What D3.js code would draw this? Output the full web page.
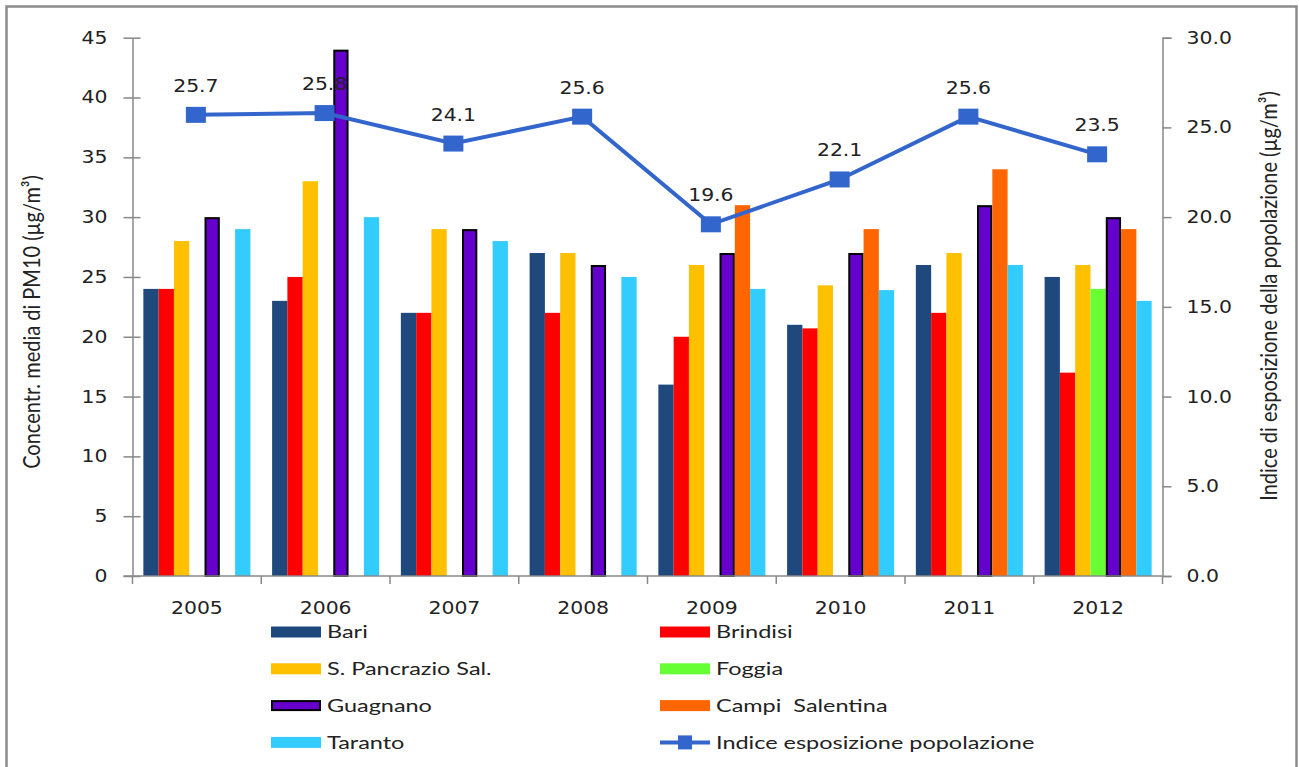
<!DOCTYPE html>
<html><head><meta charset="utf-8">
<script src="https://cdn.jsdelivr.net/npm/d3@7"></script>
<style>
body{margin:0;background:#fff;}
svg{display:block;}
.num{font-family:"DejaVu Sans",Verdana,sans-serif;font-size:17px;fill:#222;}
.sx-mid{transform-box:fill-box;transform-origin:center;transform:scaleX(1.2);}
.sx-end{transform-box:fill-box;transform-origin:right center;transform:scaleX(1.2);}
.sx-start{transform-box:fill-box;transform-origin:left center;transform:scaleX(1.2);}
.leg{font-family:Lato,"Open Sans",sans-serif;font-size:17px;fill:#222;white-space:pre;transform-box:fill-box;transform-origin:left center;transform:scaleX(1.38);}
.ttl{font-family:Lato,"Open Sans",sans-serif;font-size:20px;fill:#222;}
</style></head>
<body>
<script>
const years = ["2005","2006","2007","2008","2009","2010","2011","2012"];
const seriesNames = ["Bari","Brindisi","S. Pancrazio Sal.","Foggia","Guagnano","Campi  Salentina","Taranto"];
const bari       = [24, 23, 22, 27, 16, 21, 26, 25];
const brindisi   = [24, 25, 22, 22, 20, 20.7, 22, 17];
const pancrazio  = [28, 33, 29, 27, 26, 24.3, 27, 26];
const foggia     = [null, null, null, null, null, null, null, 24];
const guagnano   = [30, 44, 29, 26, 27, 27, 31, 30];
const campi      = [null, null, null, null, 31, 29, 34, 29];
const taranto    = [29, 30, 28, 25, 24, 23.9, 26, 23];
const indice     = [25.7, 25.8, 24.1, 25.6, 19.6, 22.1, 25.6, 23.5];
const leftTicks  = [0,5,10,15,20,25,30,35,40,45];
const rightTicks = [0,5,10,15,20,25,30];
const lineName = "Indice esposizione popolazione";
const leftTitle = "Concentr. media di PM10 (µg/m³)";
const rightTitle = "Indice di esposizione della popolazione (µg/m³)";

const colors = ["#1F497D","#FF0000","#FFC000","#66FF33","#6600CC","#FF6600","#33CCFF"];
const seriesVals = [bari, brindisi, pancrazio, foggia, guagnano, campi, taranto];

const W = 1299, H = 767;
const svg = d3.select("body").append("svg").attr("width", W).attr("height", H);
svg.append("rect").attr("width", W).attr("height", H).attr("fill", "#fff");
svg.append("rect").attr("x", 6.5).attr("y", 6.5).attr("width", 1290).attr("height", 800)
  .attr("fill", "none").attr("stroke", "#8c8c8c").attr("stroke-width", 2.5);

const X0 = 132.5, X1 = 1162.5, YT = 37.7, YB = 576;
const x = d3.scaleBand().domain(years).range([X0, X1]).paddingInner(0).paddingOuter(0);
const xs = d3.scaleBand().domain(seriesNames).range([0, x.bandwidth()]).paddingInner(0).paddingOuter(0.71);
const yL = d3.scaleLinear().domain([0, 45]).range([YB, YT]);
const yR = d3.scaleLinear().domain([0, 30]).range([YB, YT]);

// bars
seriesNames.forEach((name, si) => {
  const data = years.map((yr, i) => ({yr, v: seriesVals[si][i]})).filter(d => d.v != null);
  const isG = name === "Guagnano";
  svg.append("g").selectAll("rect").data(data).join("rect")
    .attr("x", d => x(d.yr) + xs(name) + (isG ? 1 : 0))
    .attr("width", xs.bandwidth() - (isG ? 2 : 0))
    .attr("y", d => yL(d.v) + (isG ? 1 : 0))
    .attr("height", d => YB - yL(d.v) - (isG ? 1 : 0))
    .attr("fill", colors[si])
    .attr("stroke", isG ? "#000" : "none")
    .attr("stroke-width", isG ? 2 : 0);
});

// left axis
const axL = svg.append("g").attr("transform", `translate(${X0},0)`)
  .call(d3.axisLeft(yL).tickValues(leftTicks).tickSize(0).tickPadding(25).tickFormat(d3.format("d")));
axL.select(".domain").attr("stroke", "#888").attr("stroke-width", 1.5);
axL.selectAll(".tick line").attr("x1", -9).attr("x2", 8).attr("stroke", "#888").attr("stroke-width", 1.5);
axL.selectAll("text").attr("class", "num sx-end").attr("font-size", null).attr("font-family", null);

// right axis
const axR = svg.append("g").attr("transform", `translate(${X1},0)`)
  .call(d3.axisRight(yR).tickValues(rightTicks).tickSize(9).tickPadding(15).tickFormat(d3.format(".1f")));
axR.select(".domain").attr("stroke", "#888").attr("stroke-width", 1.5);
axR.selectAll(".tick line").attr("stroke", "#888").attr("stroke-width", 1.5);
axR.selectAll("text").attr("class", "num sx-start").attr("font-size", null).attr("font-family", null);

// bottom axis
const axB = svg.append("g").attr("transform", `translate(0,${YB})`)
  .call(d3.axisBottom(x).tickSize(0).tickPadding(26));
axB.select(".domain").attr("stroke", "#888").attr("stroke-width", 1.5).attr("d", `M${X0-9},0H${X1}`);
axB.selectAll("text").attr("class", "num sx-mid").attr("font-size", null).attr("font-family", null);
const bounds = years.map(y => x(y)).concat([X1]);
svg.append("g").selectAll("line").data(bounds).join("line")
  .attr("x1", d => d).attr("x2", d => d).attr("y1", YB).attr("y2", YB + 8)
  .attr("stroke", "#888").attr("stroke-width", 1.5);

// line
const cx = d => x(d) + x.bandwidth() / 2 - 1;
const pts = years.map((yr, i) => ({yr, v: indice[i]}));
svg.append("path").datum(pts)
  .attr("d", d3.line().x(d => cx(d.yr)).y(d => yR(d.v)))
  .attr("fill", "none").attr("stroke", "#3366CC").attr("stroke-width", 4);
svg.append("g").selectAll("rect").data(pts).join("rect")
  .attr("x", d => cx(d.yr) - 10).attr("y", d => yR(d.v) - 8)
  .attr("width", 20).attr("height", 16).attr("fill", "#3366CC");
svg.append("g").selectAll("text").data(pts).join("text")
  .attr("class", "num sx-mid").attr("text-anchor", "middle")
  .attr("x", d => cx(d.yr)).attr("y", d => yR(d.v) - 23)
  .text(d => d3.format(".1f")(d.v));

// axis titles
svg.append("text").attr("class", "ttl").attr("text-anchor", "middle")
  .attr("transform", "translate(40,322) rotate(-90) scale(1,1.2)").text(leftTitle);
svg.append("text").attr("class", "ttl").attr("text-anchor", "middle")
  .attr("transform", "translate(1277,296) rotate(-90) scale(1,1.2)").text(rightTitle);

// legend
const legItems = [
  {name: seriesNames[0], col: 0, row: 0, ci: 0},
  {name: seriesNames[2], col: 0, row: 1, ci: 2},
  {name: seriesNames[4], col: 0, row: 2, ci: 4},
  {name: seriesNames[6], col: 0, row: 3, ci: 6},
  {name: seriesNames[1], col: 1, row: 0, ci: 1},
  {name: seriesNames[3], col: 1, row: 1, ci: 3},
  {name: seriesNames[5], col: 1, row: 2, ci: 5},
  {name: lineName, col: 1, row: 3, ci: -1}
];
const legX = [271, 660], legY0 = 632, legDY = 36.8;
const lg = svg.append("g");
legItems.forEach(it => {
  const gx = legX[it.col], gy = legY0 + it.row * legDY;
  if (it.ci >= 0) {
    const g = it.name === "Guagnano";
    lg.append("rect").attr("x", gx + (g ? 1 : 0)).attr("y", gy - 5.5 + (g ? 1 : 0))
      .attr("width", 50 - (g ? 2 : 0)).attr("height", 11 - (g ? 2 : 0))
      .attr("fill", colors[it.ci]).attr("stroke", g ? "#000" : "none").attr("stroke-width", g ? 2 : 0);
  } else {
    lg.append("line").attr("x1", gx).attr("x2", gx + 50).attr("y1", gy).attr("y2", gy)
      .attr("stroke", "#3366CC").attr("stroke-width", 4);
    lg.append("rect").attr("x", gx + 18).attr("y", gy - 7).attr("width", 14).attr("height", 14).attr("fill", "#3366CC");
  }
  lg.append("text").attr("class", "leg").attr("x", gx + 56).attr("y", gy).attr("dy", "0.36em").text(it.name);
});
</script>
</body></html>
